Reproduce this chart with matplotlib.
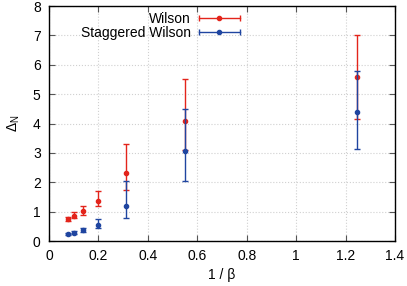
import matplotlib
matplotlib.use('Agg')
import matplotlib.pyplot as plt
from matplotlib.lines import Line2D
from matplotlib.legend_handler import HandlerBase

plt.rcParams['font.family'] = ['Liberation Sans', 'DejaVu Sans']

# 1/beta values
x = [0.076, 0.100, 0.136, 0.197, 0.310, 0.552, 1.248]

# Wilson
w_y = [0.75, 0.87, 1.04, 1.36, 2.32, 4.07, 5.58]
w_lo = [0.68, 0.78, 0.90, 1.18, 1.73, 3.10, 4.14]
w_hi = [0.83, 0.98, 1.20, 1.72, 3.32, 5.52, 7.02]

# Staggered Wilson
s_y = [0.24, 0.29, 0.37, 0.55, 1.19, 3.06, 4.39]
s_lo = [0.21, 0.25, 0.31, 0.45, 0.78, 2.04, 3.12]
s_hi = [0.27, 0.33, 0.44, 0.76, 2.05, 4.50, 5.80]

red = '#e3241b'
blue = '#1f45a0'


class CapHandler(HandlerBase):
    # horizontal errorbar-like legend sample, gnuplot style
    def create_artists(self, legend, orig_handle, xdescent, ydescent,
                       width, height, fontsize, trans):
        c = orig_handle.get_color()
        y = height / 2 - ydescent
        x0, x1 = -xdescent, width - xdescent
        line = Line2D([x0, x1], [y, y], color=c, lw=1.0, marker='|',
                      markersize=5, markeredgewidth=1.0, transform=trans)
        dot = Line2D([(x0 + x1) / 2], [y], color=c, marker='o', markersize=3,
                     linestyle='none', transform=trans)
        return [line, dot]


fig, ax = plt.subplots(figsize=(4.07, 2.86), dpi=100)
fig.subplots_adjust(left=0.1204, right=0.9705, top=0.979, bottom=0.157)

ax.errorbar(x, w_y, yerr=[[a - b for a, b in zip(w_y, w_lo)], [b - a for a, b in zip(w_y, w_hi)]],
            fmt='o', color=red, ecolor=red, elinewidth=1.0, capsize=2.2, capthick=1.0,
            markersize=3, zorder=3)
ax.errorbar(x, s_y, yerr=[[a - b for a, b in zip(s_y, s_lo)], [b - a for a, b in zip(s_y, s_hi)]],
            fmt='o', color=blue, ecolor=blue, elinewidth=1.0, capsize=2.2, capthick=1.0,
            markersize=3, zorder=4)

ax.set_xlim(0, 1.4)
ax.set_ylim(0, 8)
ax.set_xticks([0, 0.2, 0.4, 0.6, 0.8, 1, 1.2, 1.4])
ax.set_xticklabels(['0', '0.2', '0.4', '0.6', '0.8', '1', '1.2', '1.4'])
ax.set_yticks(range(0, 9))
ax.tick_params(direction='in', top=True, right=True, labelsize=10, length=4, color='#555555')
ax.tick_params(axis='x', pad=6)
ax.tick_params(axis='y', pad=6)
ax.grid(True, color='#d0d0d0', linestyle=':', linewidth=0.8)
ax.set_axisbelow(True)
for s in ax.spines.values():
    s.set_linewidth(1.0)

ax.set_xlabel('1 / β', fontsize=10, labelpad=3)
ax.set_ylabel(r'$\mathregular{\Delta_N}$', fontsize=10, labelpad=8)

handles = [Line2D([], [], color=red), Line2D([], [], color=blue)]
ax.legend(handles, ['Wilson', 'Staggered Wilson'], handler_map={Line2D: CapHandler()},
          loc='upper right', bbox_to_anchor=(0.575, 1.01), frameon=False, markerfirst=False,
          fontsize=10, handlelength=2.9, handletextpad=0.6, labelspacing=0.0, borderaxespad=0.2)

fig.savefig('out.png')
